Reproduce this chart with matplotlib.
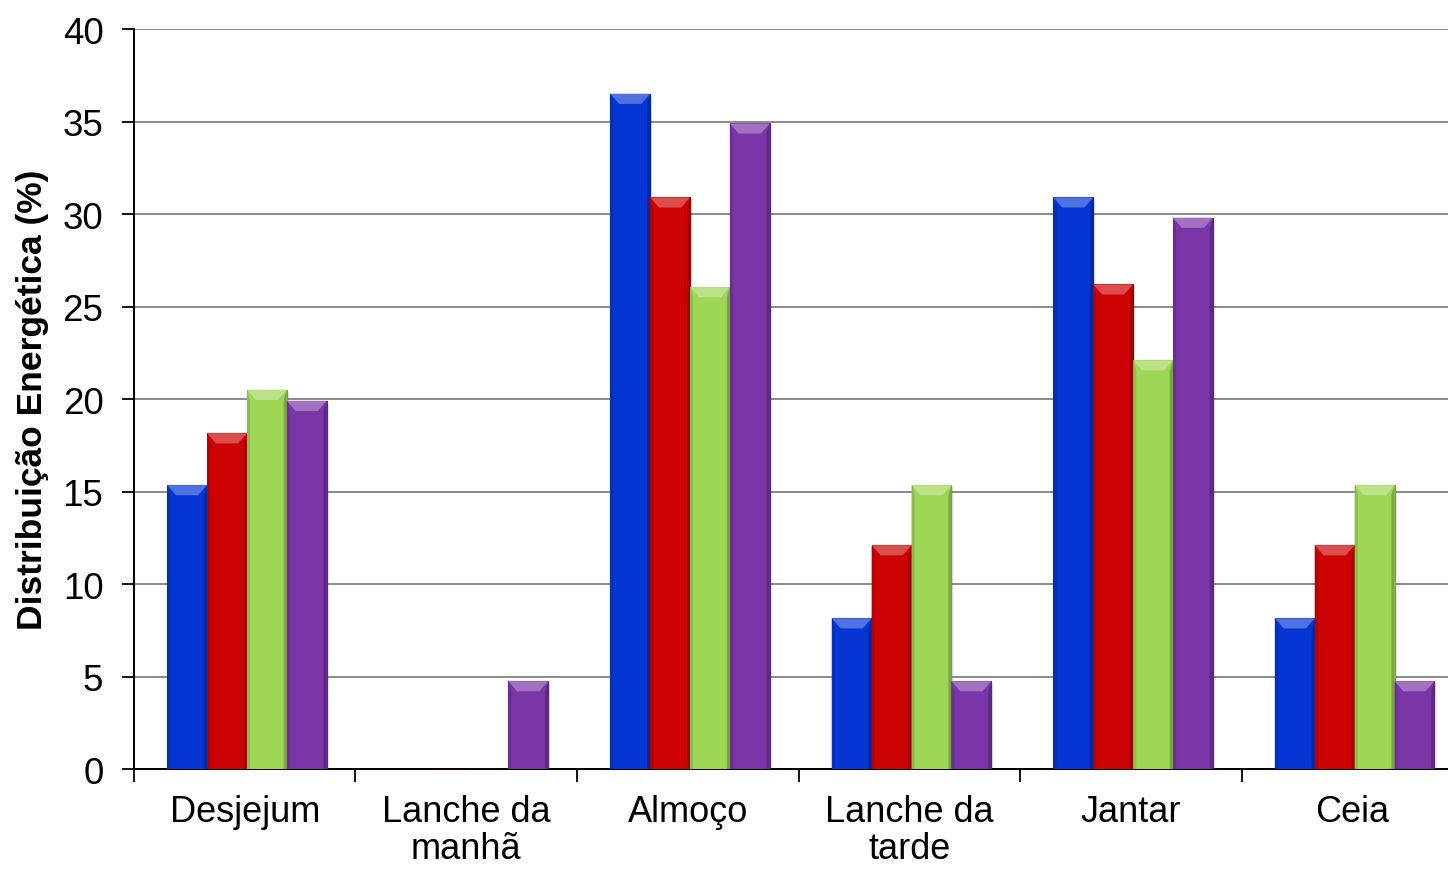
import matplotlib
matplotlib.use("Agg")
import matplotlib.pyplot as plt
from matplotlib.patches import Polygon
from matplotlib.colors import to_rgb
import numpy as np

plt.rcParams['font.family'] = ['Liberation Sans', 'DejaVu Sans']

categories = ["Desjejum", "Lanche da\nmanhã", "Almoço", "Lanche da\ntarde", "Jantar", "Ceia"]
serie_azul = [15.35, 0, 36.5, 8.15, 30.9, 8.15]
serie_vermelha = [18.15, 0, 30.9, 12.1, 26.2, 12.1]
serie_verde = [20.5, 0, 26.05, 15.35, 22.1, 15.35]
serie_roxa = [19.9, 4.75, 34.9, 4.75, 29.8, 4.75]
yticks = [0, 5, 10, 15, 20, 25, 30, 35, 40]

series = [serie_azul, serie_vermelha, serie_verde, serie_roxa]
colors = ["#0535D2", "#CC0202", "#9ED656", "#7A35A6"]

fig = plt.figure(figsize=(14.48, 8.70), dpi=100)
ax = fig.add_axes([0.0925, 0.1149, 0.918, 0.8506])

x = np.arange(len(categories))
w = 0.18
offsets = [-1.5 * w, -0.5 * w, 0.5 * w, 1.5 * w]


def shade(c, f):
    r = np.array(to_rgb(c))
    if f >= 0:
        return tuple(r + (1 - r) * f)
    return tuple(r * (1 + f))


# bevel sizes in data units
dx = 0.04
dy = 0.55

for vals, off, col in zip(series, offsets, colors):
    bars = ax.bar(x + off + 0.01, vals, width=w, color=col,
                  edgecolor=shade(col, -0.25), linewidth=0.8, zorder=3)
    for b in bars:
        h = b.get_height()
        if h <= 0:
            continue
        x0 = b.get_x()
        x1 = x0 + b.get_width()
        # soft shadow on the right
        ax.add_patch(Polygon([(x1, 0), (x1 + 0.009, 0), (x1 + 0.009, h - 0.2), (x1, h)],
                             closed=True, facecolor=(0, 0, 0, 0.12), edgecolor='none', zorder=2))
        # top bevel
        ax.add_patch(Polygon([(x0, h), (x1, h), (x1 - dx, h - dy), (x0 + dx, h - dy)],
                             closed=True, facecolor=shade(col, 0.3), edgecolor='none', zorder=4))
        # side bevels
        ax.add_patch(Polygon([(x0, h), (x0 + dx * 0.35, h - dy), (x0 + dx * 0.35, 0), (x0, 0)],
                             closed=True, facecolor=shade(col, -0.12), edgecolor='none', zorder=4))
        ax.add_patch(Polygon([(x1, h), (x1 - dx * 0.35, h - dy), (x1 - dx * 0.35, 0), (x1, 0)],
                             closed=True, facecolor=shade(col, -0.22), edgecolor='none', zorder=4))

ax.set_xlim(-0.5, len(categories) - 0.5)
ax.set_ylim(0, 40)
ax.set_yticks(yticks)
ax.yaxis.grid(True, color="#8a8a8a", linewidth=1.4, zorder=0)
ax.set_axisbelow(True)

ax.set_xticks(x)
ax.set_xticklabels(categories, fontsize=26, linespacing=1.08)
ax.set_xticks(np.arange(len(categories) + 1) - 0.5, minor=True)
ax.tick_params(axis='x', which='major', length=0, pad=18)
ax.tick_params(axis='x', which='minor', length=9, width=1.3, color='black')
ax.tick_params(axis='y', length=9, width=1.3, labelsize=26.5, pad=13)

for s in ['top', 'right']:
    ax.spines[s].set_visible(False)
ax.spines['left'].set_linewidth(1.4)
ax.spines['bottom'].set_linewidth(1.4)

ax.set_ylabel("Distribuição Energética (%)", fontsize=25.5, fontweight='bold', labelpad=10)

fig.savefig("out.png", dpi=100)
